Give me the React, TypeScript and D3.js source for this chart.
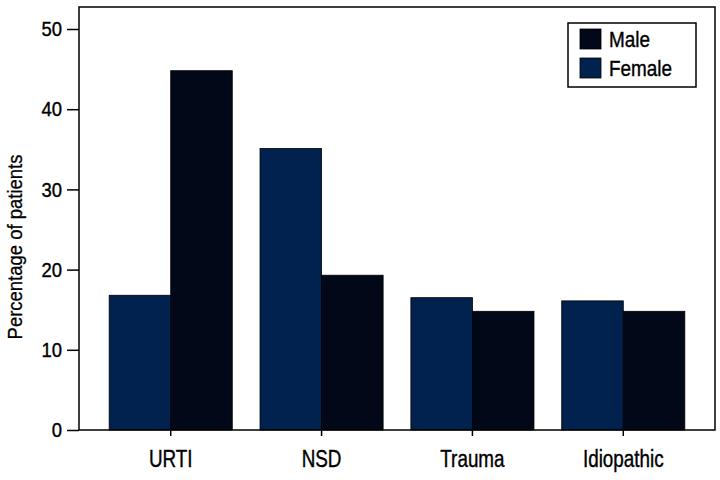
import React, { useEffect, useRef } from "react";
import * as d3 from "d3";

const categories = ["URTI", "NSD", "Trauma", "Idiopathic"];
const genders = ["Female", "Male"];
const femaleValues = [16.8, 35.1, 16.5, 16.1];
const maleValues = [44.8, 19.3, 14.8, 14.8];
const yTicks = [0, 10, 20, 30, 40, 50];
const legendItems = ["Male", "Female"];

const colors: Record<string, string> = { Female: "#01214f", Male: "#020817" };
const FONT = "'Liberation Sans', Arial, sans-serif";
const NARROW = 0.82; // squeeze to look like a condensed face

export default function App() {
  const ref = useRef<SVGSVGElement>(null);

  useEffect(() => {
    const svg = d3.select(ref.current);
    svg.selectAll("*").remove();

    const left = 79, right = 715, top = 7, bottom = 430;

    const x = d3.scaleBand().domain(categories).range([left, right]).paddingInner(0.184).paddingOuter(0.2);
    const xInner = d3.scaleBand().domain(genders).range([0, x.bandwidth()]);
    const y = d3.scaleLinear().domain([0, 50]).range([bottom, 29]);

    const rows = categories.map((c, i) => ({ cat: c, Female: femaleValues[i], Male: maleValues[i] }));

    // bars
    svg
      .append("g")
      .selectAll("g")
      .data(rows)
      .join("g")
      .attr("transform", (d) => `translate(${x(d.cat)},0)`)
      .selectAll("rect")
      .data((d) => genders.map((g) => ({ g, v: (d as any)[g] as number })))
      .join("rect")
      .attr("x", (d) => xInner(d.g)!)
      .attr("y", (d) => y(d.v))
      .attr("width", xInner.bandwidth())
      .attr("height", (d) => bottom - y(d.v))
      .attr("fill", (d) => colors[d.g])
      .attr("stroke", "#000")
      .attr("stroke-width", 0.8);

    // frame
    svg
      .append("rect")
      .attr("x", left)
      .attr("y", top)
      .attr("width", right - left)
      .attr("height", bottom - top)
      .attr("fill", "none")
      .attr("stroke", "#000")
      .attr("stroke-width", 1.5);

    // y axis
    const yAxis = svg
      .append("g")
      .attr("transform", `translate(${left},0)`)
      .call(d3.axisLeft(y).tickValues(yTicks).tickSize(12).tickPadding(5).tickFormat(d3.format("d")));
    yAxis.select(".domain").remove();
    yAxis.selectAll("line").attr("stroke-width", 1.5);
    yAxis
      .selectAll("text")
      .attr("x", -17 / 0.88)
      .attr("transform", "scale(0.88,1)")
      .style("font-family", FONT)
      .style("font-size", "21px")
      .attr("fill", "#000")
      .attr("stroke", "#000")
      .attr("stroke-width", 0.4);

    // x axis
    const xAxis = svg
      .append("g")
      .attr("transform", `translate(0,${bottom})`)
      .call(d3.axisBottom(x).tickSize(6).tickPadding(15));
    xAxis.select(".domain").remove();
    xAxis.selectAll("line").attr("stroke-width", 1.5);
    xAxis
      .selectAll("text")
      .attr("transform", `scale(${NARROW},1)`)
      .style("font-family", FONT)
      .style("font-size", "23px")
      .attr("fill", "#000")
      .attr("stroke", "#000")
      .attr("stroke-width", 0.4);

    // y label
    svg
      .append("text")
      .attr("transform", "translate(22,247) rotate(-90) scale(0.88,1)")
      .style("text-anchor", "middle")
      .style("font-family", FONT)
      .style("font-size", "21px")
      .attr("stroke", "#000")
      .attr("stroke-width", 0.3)
      .text("Percentage of patients");

    // legend
    const lg = svg.append("g");
    lg.append("rect")
      .attr("x", 568)
      .attr("y", 23)
      .attr("width", 128)
      .attr("height", 64)
      .attr("fill", "#fff")
      .attr("stroke", "#000")
      .attr("stroke-width", 1.5);
    const items = lg
      .selectAll("g.item")
      .data(legendItems)
      .join("g")
      .attr("class", "item")
      .attr("transform", (d, i) => `translate(580,${29 + i * 29})`);
    items
      .append("rect")
      .attr("width", 21)
      .attr("height", 20)
      .attr("fill", (d) => colors[d])
      .attr("stroke", "#000")
      .attr("stroke-width", 0.8);
    items
      .append("text")
      .attr("transform", "translate(29,18) scale(0.86,1)")
      .style("font-family", FONT)
      .style("font-size", "22px")
      .attr("stroke", "#000")
      .attr("stroke-width", 0.4)
      .text((d) => d);
  }, []);

  return (
    <svg
      ref={ref}
      width={720}
      height={480}
      style={{ position: "absolute", left: 0, top: 0, background: "#fff" }}
    />
  );
}
